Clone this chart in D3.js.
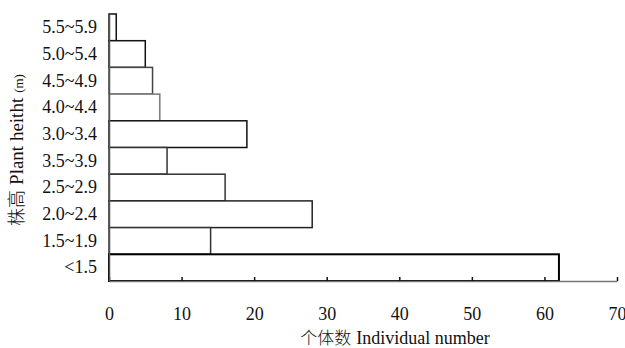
<!DOCTYPE html>
<html><head><meta charset="utf-8">
<script src="https://cdn.jsdelivr.net/npm/d3@7"></script>
<style>body{margin:0;background:#fff}</style>
</head><body>
<svg id="c" width="625" height="348"></svg>
<script>
const categories = ["5.5~5.9","5.0~5.4","4.5~4.9","4.0~4.4","3.0~3.4","3.5~3.9","2.5~2.9","2.0~2.4","1.5~1.9","<1.5"];
const values = [1,5,6,7,19,8,16,28,14,62];
const xTicks = [0,10,20,30,40,50,60,70];
const strokes = ["#111","#111","#444","#777","#111","#333","#333","#222","#333","#000"];

const svg = d3.select("#c");
const serif = "'Liberation Serif','Times New Roman',serif";
const m = {l:109, r:617, t:14, b:281};
const x = d3.scaleLinear().domain([0,70]).range([m.l, m.r]);
const y = d3.scaleBand().domain(categories).range([m.t, m.b]).padding(0);

svg.selectAll("rect.bar").data(values).enter().append("rect")
  .attr("class","bar")
  .attr("x", x(0))
  .attr("y", (d,i)=>y(categories[i]))
  .attr("width", d=>x(d)-x(0))
  .attr("height", y.bandwidth())
  .attr("fill","#fff")
  .attr("stroke",(d,i)=>strokes[i])
  .attr("stroke-width",(d,i)=> i===9 ? 2 : 1.5);

// x axis
const xa = svg.append("g").attr("transform",`translate(0,${m.b})`)
  .call(d3.axisBottom(x).tickValues(xTicks).tickSizeInner(-4).tickSizeOuter(0).tickPadding(26));
xa.select(".domain").attr("stroke","#777").attr("stroke-width",1.5);
xa.selectAll(".tick line").attr("stroke","#111").attr("stroke-width",1.5);
xa.selectAll(".tick text").attr("font-family",serif).attr("font-size",18).attr("fill","#111");

// y axis
const ya = svg.append("g").attr("transform",`translate(${m.l},0)`)
  .call(d3.axisLeft(y).tickSize(0).tickPadding(12));
ya.select(".domain").attr("stroke","#555").attr("stroke-width",1.5);
ya.selectAll(".tick text").attr("font-family",serif).attr("font-size",18).attr("fill","#111");

// axis titles
const xt = svg.append("text").attr("x",395).attr("y",344).attr("text-anchor","middle")
  .attr("font-family",serif).attr("font-size",18).attr("fill","#111");
xt.append("tspan").attr("font-family","'Noto Sans CJK SC'").attr("font-size",17).attr("font-weight",300).text("个体数");
xt.append("tspan").attr("font-family",serif).attr("dx",5).text("Individual number");

const yt = svg.append("text").attr("transform","translate(23,150) rotate(-90)").attr("text-anchor","middle")
  .attr("font-family",serif).attr("font-size",19).attr("fill","#111");
yt.append("tspan").attr("font-family","'Noto Sans CJK SC'").attr("font-size",18).attr("font-weight",300).text("株高");
yt.append("tspan").attr("font-family",serif).attr("dx",5).text("Plant heitht");
yt.append("tspan").attr("font-family",serif).attr("dx",5).attr("font-size",13).text("(m)");
</script>
</body></html>
